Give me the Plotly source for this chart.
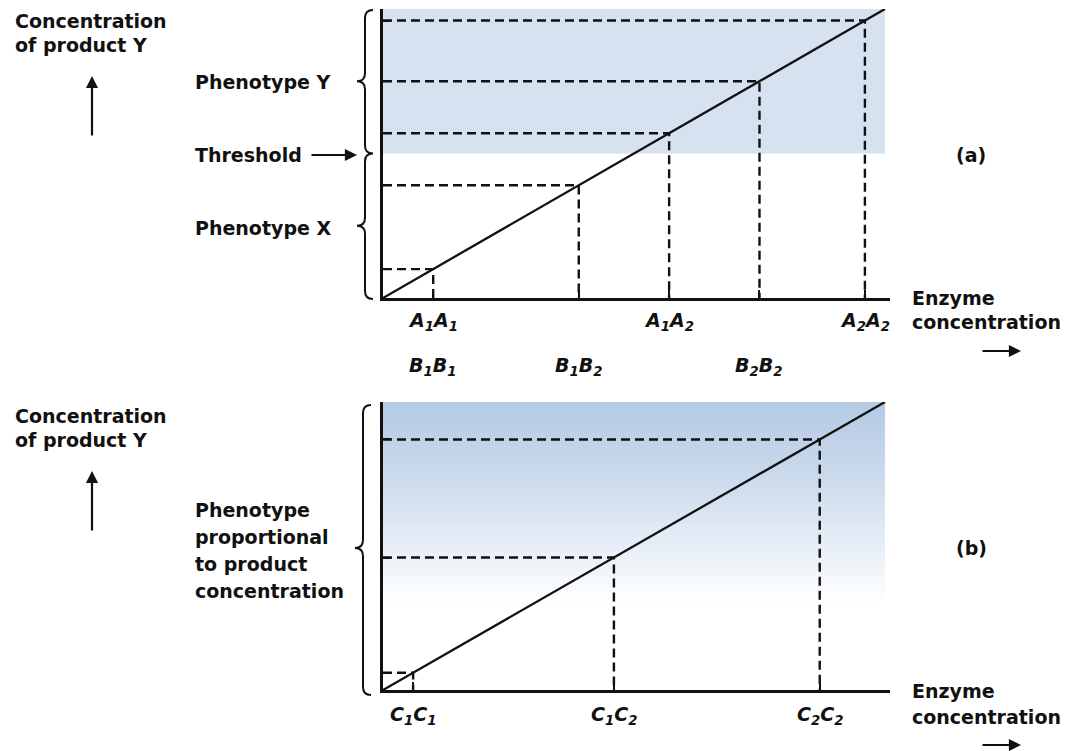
import plotly.graph_objects as go

W, H = 1065, 751

# ---------------- data ----------------
# response line: product concentration proportional to enzyme concentration
enzyme_line = [0.0, 1.0]
product_line = [0.0, 1.0]

# panel (a): genotype enzyme levels (dashed guides)
a_guides = [0.10, 0.39, 0.57, 0.75, 0.96]
a_threshold = 0.5
a_row1_pos = [0.10, 0.57, 0.96]
a_row1_labels = ["A<sub>1</sub>A<sub>1</sub>", "A<sub>1</sub>A<sub>2</sub>", "A<sub>2</sub>A<sub>2</sub>"]
a_row2_pos = [0.10, 0.39, 0.75]
a_row2_labels = ["B<sub>1</sub>B<sub>1</sub>", "B<sub>1</sub>B<sub>2</sub>", "B<sub>2</sub>B<sub>2</sub>"]

# panel (b)
b_guides = [0.06, 0.46, 0.87]
b_labels = ["C<sub>1</sub>C<sub>1</sub>", "C<sub>1</sub>C<sub>2</sub>", "C<sub>2</sub>C<sub>2</sub>"]

# ---------------- layout geometry (pixels) ----------------
X0, X1 = 383, 890
XR = [0, 1.01]
A_Y0, A_Y1 = 298, 9
B_Y0, B_Y1 = 690, 402
YR = [0, 1]

def px_y(v, panel):
    y0, y1 = (A_Y0, A_Y1) if panel == "a" else (B_Y0, B_Y1)
    return y0 + (v - YR[0]) / (YR[1] - YR[0]) * (y1 - y0)

def pxp(x):
    return x / W

def pyp(y):
    return 1 - y / H

INK = "#111111"
FONT = "DejaVu Sans"

fig = go.Figure()

# shading (a): phenotype Y region above threshold
fig.add_trace(go.Scatter(
    x=[0, enzyme_line[1], enzyme_line[1], 0, 0],
    y=[a_threshold, a_threshold, 1, 1, a_threshold],
    fill="toself", fillcolor="#d7e2f0", mode="lines", line=dict(width=0),
    hoverinfo="skip", showlegend=False, xaxis="x", yaxis="y"))

# shading (b): graded
fig.add_trace(go.Scatter(
    x=[0, enzyme_line[1], enzyme_line[1], 0, 0],
    y=[0, 0, 1, 1, 0],
    fill="toself", mode="lines", line=dict(width=0),
    fillgradient=dict(type="vertical",
                      colorscale=[[0, "#ffffff"], [0.3, "#ffffff"], [0.5, "#e7eef7"],
                                  [0.75, "#cad9ec"], [1, "#b4cae4"]]),
    hoverinfo="skip", showlegend=False, xaxis="x2", yaxis="y2"))

DASH = "9px,5px"
for v in a_guides:
    fig.add_trace(go.Scatter(x=[0, v, v], y=[v, v, 0], mode="lines",
                             line=dict(color=INK, width=2.4, dash=DASH),
                             hoverinfo="skip", showlegend=False, xaxis="x", yaxis="y"))
for v in b_guides:
    fig.add_trace(go.Scatter(x=[0, v, v], y=[v, v, 0], mode="lines",
                             line=dict(color=INK, width=2.4, dash=DASH),
                             hoverinfo="skip", showlegend=False, xaxis="x2", yaxis="y2"))

for xa, ya in (("x", "y"), ("x2", "y2")):
    fig.add_trace(go.Scatter(x=enzyme_line, y=product_line, mode="lines",
                             line=dict(color=INK, width=2.3),
                             hoverinfo="skip", showlegend=False, xaxis=xa, yaxis=ya))

axis_common = dict(showgrid=False, zeroline=False, showline=True, linecolor=INK,
                   linewidth=2.5, ticks="inside", ticklen=8, tickwidth=2,
                   tickcolor=INK, showticklabels=False, fixedrange=True)

xdom = [X0 / W, X1 / W]
fig.update_layout(
    width=W, height=H, margin=dict(l=0, r=0, t=0, b=0),
    paper_bgcolor="white", plot_bgcolor="rgba(0,0,0,0)",
    showlegend=False,
    xaxis=dict(domain=xdom, range=XR, anchor="y", tickvals=a_guides, **axis_common),
    yaxis=dict(domain=[pyp(A_Y0), pyp(A_Y1)], range=YR, anchor="x", tickvals=a_guides, **axis_common),
    xaxis2=dict(domain=xdom, range=XR, anchor="y2", tickvals=b_guides, **axis_common),
    yaxis2=dict(domain=[pyp(B_Y0), pyp(B_Y1)], range=YR, anchor="x2", tickvals=b_guides, **axis_common),
)

annotations = []

def text(x, y, s, xanchor="left", size=19, style="normal", xref="paper"):
    annotations.append(dict(
        x=x if xref != "paper" else pxp(x), y=pyp(y), xref=xref, yref="paper",
        text=s, showarrow=False, xanchor=xanchor, yanchor="middle",
        font=dict(family=FONT, size=size, color=INK, weight="bold", style=style)))

def arrow(tip_x, tip_y, tail_dx, tail_dy):
    annotations.append(dict(
        x=pxp(tip_x), y=pyp(tip_y), xref="paper", yref="paper", text="",
        showarrow=True, ax=tail_dx, ay=tail_dy, arrowhead=2, arrowsize=1.1,
        arrowwidth=2.2, arrowcolor=INK))

# panel (a) texts
text(13, 21, "Concentration")
text(13, 45, "of product Y")
arrow(92, 76, 0, 61)
text(193, 82, "Phenotype Y")
text(193, 155, "Threshold")
arrow(357, 155, -47, 0)
text(193, 228, "Phenotype X")
text(971, 155, "(a)", xanchor="center")
text(910, 298, "Enzyme")
text(910, 322, "concentration")
arrow(1021, 351, -40, 0)
for p, s in zip(a_row1_pos, a_row1_labels):
    text(p, 321, s, xanchor="center", style="italic", xref="x")
for p, s in zip(a_row2_pos, a_row2_labels):
    text(p, 366, s, xanchor="center", style="italic", xref="x")

# panel (b) texts
text(13, 416, "Concentration")
text(13, 440, "of product Y")
arrow(92, 471, 0, 61)
for i, s in enumerate(["Phenotype", "proportional", "to product", "concentration"]):
    text(193, 510 + 27 * i, s)
text(971, 548, "(b)", xanchor="center")
text(910, 691, "Enzyme")
text(910, 717, "concentration")
arrow(1021, 745, -40, 0)
for p, s in zip(b_guides, b_labels):
    text(p, 715, s, xanchor="center", style="italic", xref="x2")

fig.update_layout(annotations=annotations)

# curly braces (paper coordinates derived from the axes)
def brace_path(xs, y_top, y_bot, cusps, r=8, c=8):
    def P(x, y):
        return f"{pxp(x):.5f},{pyp(y):.5f}"
    d = f"M {P(xs + r, y_top)} Q {P(xs, y_top)} {P(xs, y_top + r)}"
    for yc, dirn in cusps:
        d += f" L {P(xs, yc - r)} Q {P(xs, yc)} {P(xs + dirn * c, yc)} Q {P(xs, yc)} {P(xs, yc + r)}"
    d += f" L {P(xs, y_bot - r)} Q {P(xs, y_bot)} {P(xs + r, y_bot)}"
    return d

shapes = []
shapes.append(dict(type="path", xref="paper", yref="paper",
                   path=brace_path(365, px_y(1, "a") + 1, px_y(0, "a") + 1,
                                   [(px_y(0.75, "a"), -1), (px_y(a_threshold, "a"), 1),
                                    (px_y(0.25, "a"), -1)]),
                   line=dict(color=INK, width=2)))
shapes.append(dict(type="path", xref="paper", yref="paper",
                   path=brace_path(363, px_y(1, "b") + 3, px_y(0, "b") + 5,
                                   [(px_y(0.5, "b") + 2, -1)]),
                   line=dict(color=INK, width=2)))
fig.update_layout(shapes=shapes)

fig.write_html("out.html", config={"displayModeBar": False},
               post_script="document.body.style.margin='0';document.body.style.overflow='hidden';")
